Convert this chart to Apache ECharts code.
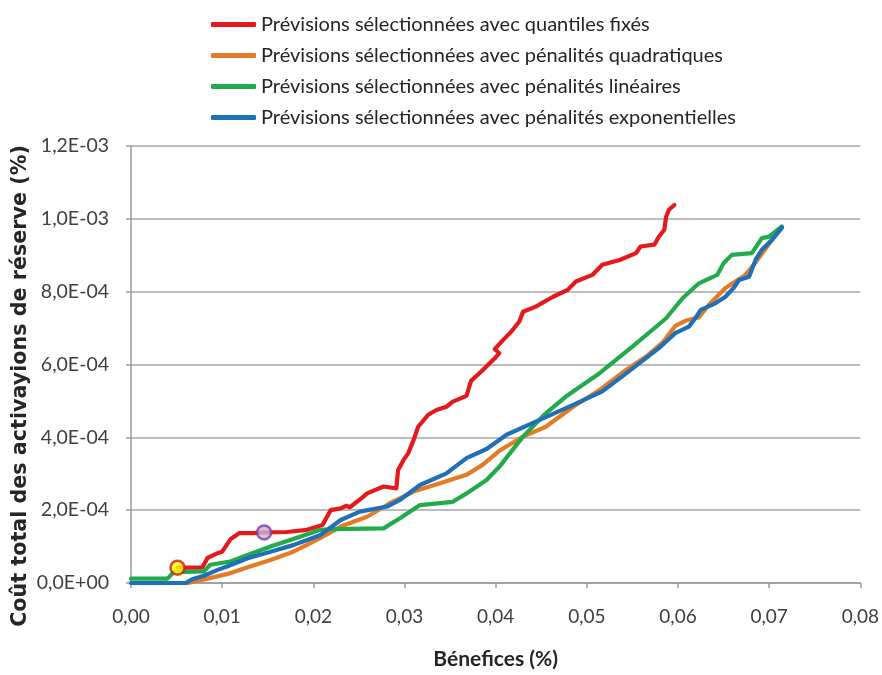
<!DOCTYPE html>
<html>
<head>
<meta charset="utf-8">
<script src="https://cdn.jsdelivr.net/npm/echarts@6/dist/echarts.min.js"></script>
<style>
html,body{margin:0;padding:0;background:#fff;}
#chart{width:882px;height:675px;}
</style>
</head>
<body>
<div id="chart"></div>
<script>
// Names of series (legend)
const seriesNames = [
  'Prévisions sélectionnées avec quantiles fixés',
  'Prévisions sélectionnées avec pénalités quadratiques',
  'Prévisions sélectionnées avec pénalités linéaires',
  'Prévisions sélectionnées avec pénalités exponentielles'
];
const xTitle = 'Bénefices (%)';
const yTitle = 'Coût total des activayions de réserve (%)';
// Y values are in units of 1E-04 (%)
const redX = [0.0051,0.0078,0.0084,0.0095,0.0100,0.0109,0.0119,0.0134,0.0146,0.0171,0.0193,0.0210,0.0219,0.0230,0.0236,0.0240,0.0253,0.0259,0.0277,0.0291,0.0293,0.0299,0.0304,0.0310,0.0315,0.0326,0.0335,0.0346,0.0353,0.0368,0.0373,0.0386,0.0399,0.0404,0.0399,0.0408,0.0417,0.0426,0.0430,0.0444,0.0463,0.0479,0.0488,0.0506,0.0517,0.0536,0.0554,0.0559,0.0574,0.0579,0.0585,0.0587,0.0590,0.0596];
const redY = [0.42,0.42,0.69,0.82,0.86,1.20,1.37,1.37,1.39,1.40,1.46,1.59,2.00,2.05,2.12,2.08,2.33,2.46,2.65,2.60,3.10,3.38,3.56,3.93,4.29,4.62,4.75,4.84,4.98,5.14,5.55,5.85,6.17,6.31,6.42,6.67,6.90,7.18,7.45,7.59,7.86,8.05,8.28,8.46,8.74,8.87,9.06,9.24,9.29,9.51,9.70,10.06,10.25,10.38];
const orangeX = [0.0062,0.0084,0.0106,0.0128,0.0153,0.0178,0.0193,0.0208,0.0230,0.0259,0.0284,0.0310,0.0339,0.0368,0.0386,0.0404,0.0430,0.0455,0.0485,0.0514,0.0543,0.0565,0.0583,0.0597,0.0608,0.0623,0.0634,0.0652,0.0674,0.0685,0.0703,0.0714];
const orangeY = [0.00,0.12,0.25,0.43,0.63,0.86,1.05,1.24,1.55,1.82,2.19,2.51,2.74,2.97,3.25,3.63,4.02,4.29,4.84,5.30,5.85,6.22,6.60,7.06,7.20,7.30,7.64,8.10,8.46,8.80,9.42,9.76];
const greenX = [0.0000,0.0040,0.0047,0.0080,0.0087,0.0109,0.0128,0.0153,0.0178,0.0208,0.0222,0.0277,0.0295,0.0317,0.0353,0.0368,0.0390,0.0404,0.0430,0.0455,0.0477,0.0514,0.0550,0.0587,0.0605,0.0623,0.0643,0.0650,0.0659,0.0681,0.0692,0.0700,0.0714];
const greenY = [0.12,0.12,0.30,0.32,0.50,0.59,0.77,1.00,1.21,1.46,1.48,1.50,1.78,2.14,2.23,2.46,2.83,3.19,4.02,4.66,5.12,5.76,6.49,7.27,7.82,8.23,8.46,8.78,9.01,9.06,9.47,9.51,9.79];
const blueX = [0.0000,0.0060,0.0067,0.0080,0.0095,0.0106,0.0128,0.0153,0.0178,0.0208,0.0230,0.0251,0.0281,0.0295,0.0317,0.0346,0.0368,0.0390,0.0412,0.0444,0.0485,0.0517,0.0536,0.0579,0.0597,0.0612,0.0619,0.0625,0.0641,0.0652,0.0661,0.0667,0.0678,0.0685,0.0692,0.0703,0.0714];
const blueY = [0.00,0.00,0.10,0.20,0.36,0.46,0.68,0.86,1.04,1.32,1.73,1.96,2.10,2.28,2.69,3.01,3.43,3.68,4.07,4.43,4.89,5.26,5.62,6.45,6.86,7.04,7.27,7.50,7.68,7.86,8.10,8.32,8.41,8.87,9.15,9.42,9.76];
// Highlighted points
const markerX = [0.0051, 0.0146];
const markerY = [0.42, 1.39];
const markerFill = ['#ffff00', '#c9b3dc'];
const markerStroke = ['#d11a1a', '#7a3fa0'];
// Axis ranges / ticks
const xTicks = {min: 0, max: 0.08, interval: 0.01};
const yTicks = {min: 0, max: 12, interval: 2};

const colors = ['#e5191b', '#e57b25', '#21ab4b', '#1f70b8'];
const FONT = 'Lato';

function zip(xs, ys){ return xs.map((x,i)=>[x, ys[i]]); }
function yFmt(v){
  const s = (v*1e-4).toExponential(1);
  const parts = s.split('e');
  const m = parts[0].replace('.', ',');
  let e = parseInt(parts[1], 10);
  const sign = e < 0 ? '-' : '+';
  e = Math.abs(e);
  return m + 'E' + sign + (e < 10 ? '0' + e : '' + e);
}
function xFmt(v){ return v.toFixed(2).replace('.', ','); }

// fit y-title font size to the target length
const mctx = document.createElement('canvas').getContext('2d');
mctx.font = 'bold 20px "DejaVu Sans"';
const yTitleSize = Math.min(22, 20 * 482 / mctx.measureText(yTitle).width);

const lineData = [zip(redX, redY), zip(orangeX, orangeY), zip(greenX, greenY), zip(blueX, blueY)];

const series = seriesNames.map((n, i) => ({
  name: n,
  type: 'line',
  data: lineData[i],
  showSymbol: false,
  symbol: 'none',
  smooth: false,
  lineStyle: {color: colors[i], width: 4.2, cap: 'round', join: 'round'},
  itemStyle: {color: colors[i]},
  z: 2 + i,
  animation: false
}));
series.push({
  name: 'markers',
  type: 'scatter',
  symbolSize: 14,
  z: 10,
  data: markerX.map((x, i) => ({
    value: [x, markerY[i]],
    itemStyle: {color: markerFill[i], borderColor: markerStroke[i], borderWidth: 2.5}
  })),
  animation: false
});

const chart = echarts.init(document.getElementById('chart'), null, {renderer: 'canvas'});
chart.setOption({
  backgroundColor: '#ffffff',
  animation: false,
  textStyle: {fontFamily: FONT},
  legend: {
    data: seriesNames,
    orient: 'vertical',
    left: 206,
    top: 8,
    itemWidth: 45,
    itemHeight: 5,
    itemGap: 8,
    icon: 'roundRect',
    textStyle: {fontFamily: FONT, fontSize: 20, lineHeight: 23, color: '#262626'}
  },
  grid: {left: 131, right: 20, top: 146, bottom: 92, containLabel: false},
  xAxis: {
    type: 'value',
    min: xTicks.min, max: xTicks.max, interval: xTicks.interval,
    name: xTitle,
    nameLocation: 'middle',
    nameGap: 66,
    nameTextStyle: {fontFamily: FONT, fontWeight: 'bold', fontSize: 21, color: '#262626'},
    axisLine: {show: true, lineStyle: {color: '#9a9a9a', width: 1.5}},
    axisTick: {show: true, length: 5, inside: false, lineStyle: {color: '#9a9a9a', width: 1.5}},
    axisLabel: {formatter: xFmt, fontFamily: FONT, fontSize: 19, color: '#404040', margin: 24},
    splitLine: {show: false}
  },
  yAxis: {
    type: 'value',
    min: yTicks.min, max: yTicks.max, interval: yTicks.interval,
    axisLine: {show: true, lineStyle: {color: '#9a9a9a', width: 1.5}},
    axisTick: {show: true, length: 5, inside: false, lineStyle: {color: '#9a9a9a', width: 1.5}},
    axisLabel: {formatter: yFmt, fontFamily: FONT, fontSize: 19.5, color: '#404040', margin: 22},
    splitLine: {show: true, lineStyle: {color: '#a6a6a6', width: 1.5}}
  },
  graphic: [{
    type: 'text',
    x: 21, y: 386,
    rotation: Math.PI / 2,
    style: {
      text: yTitle,
      x: 0, y: 0,
      align: 'center', verticalAlign: 'middle',
      fontFamily: 'DejaVu Sans', fontWeight: 'bold', fontSize: yTitleSize, fill: '#262626'
    }
  }],
  series: series
});
</script>
</body>
</html>
